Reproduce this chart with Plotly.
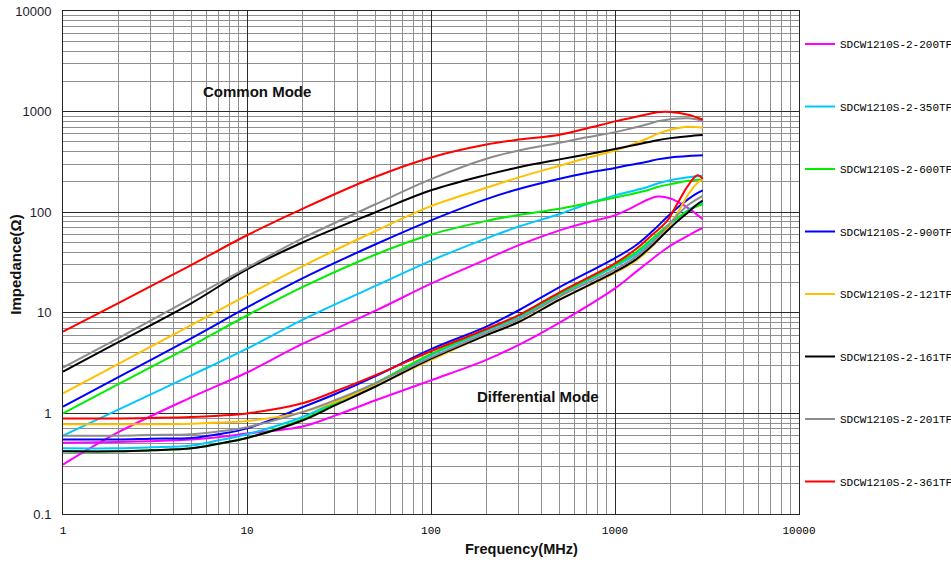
import plotly.graph_objects as go

# ---------------- data ----------------
names = ["SDCW1210S-2-200TF", "SDCW1210S-2-350TF", "SDCW1210S-2-600TF", "SDCW1210S-2-900TF",
         "SDCW1210S-2-121TF", "SDCW1210S-2-161TF", "SDCW1210S-2-201TF", "SDCW1210S-2-361TF"]
colors = ["#FF00FF", "#00C8FF", "#00EE00", "#0000FF", "#FFC000", "#000000", "#8C8C8C", "#FF0000"]

# Common mode impedance (ohm) vs frequency (MHz)
cm_freq = [1, 2, 5, 10, 20, 50, 100, 200, 300, 500, 700, 1000, 1200, 1500, 1700, 2000, 2500, 3000]
cm_200 = [0.31, 0.65, 1.45, 2.55, 4.9, 10.5, 19.5, 34, 47, 66, 79, 93, 108, 133, 143, 137, 110, 85]
cm_350 = [0.6, 1.09, 2.4, 4.4, 8.5, 18.5, 33, 55, 72, 96, 120, 147, 160, 178, 193, 208, 222, 230]
cm_600 = [1.0, 1.95, 4.7, 9.4, 18, 38, 60, 82, 94, 108, 122, 140, 150, 165, 178, 190, 205, 213]
cm_900 = [1.17, 2.3, 5.6, 11.3, 22, 48, 83, 135, 170, 215, 245, 275, 295, 318, 335, 350, 362, 368]
cm_121 = [1.58, 3.1, 7.6, 15, 29, 65, 115, 175, 222, 290, 345, 410, 460, 540, 600, 660, 705, 690]
cm_161 = [2.6, 5.1, 12.5, 27, 50, 100, 165, 235, 280, 335, 375, 425, 455, 495, 520, 545, 570, 585]
cm_201 = [2.86, 5.6, 14, 28, 55, 120, 213, 340, 410, 490, 555, 625, 675, 750, 800, 840, 860, 815]
cm_361 = [6.5, 12.5, 30, 59, 108, 225, 350, 470, 527, 590, 680, 800, 860, 940, 985, 990, 930, 830]

# Differential mode impedance (ohm) vs frequency (MHz)
dm_freq = [1, 2, 3, 5, 7, 10, 20, 30, 50, 100, 200, 300, 500, 1000, 1300, 1600, 1900, 2200, 2500, 2800, 3000]
dm_200 = [0.51, 0.52, 0.53, 0.55, 0.58, 0.63, 0.74, 0.95, 1.35, 2.13, 3.4, 4.8, 8.0, 17.5, 25.5, 34.5, 43.6, 51.5, 58.6, 65.7, 70]
dm_350 = [0.45, 0.45, 0.46, 0.48, 0.54, 0.62, 0.92, 1.3, 2.0, 3.8, 6.6, 9.0, 15, 29, 38, 52, 70, 88, 105, 118, 125]
dm_600 = [0.42, 0.42, 0.43, 0.45, 0.5, 0.57, 0.87, 1.25, 2.0, 3.9, 6.8, 9.3, 15.5, 30, 40, 55, 72, 88, 103, 115, 120]
dm_900 = [0.55, 0.55, 0.56, 0.57, 0.62, 0.71, 1.15, 1.55, 2.35, 4.35, 7.3, 10.6, 18, 35, 47, 65, 88, 112, 135, 155, 165]
dm_121 = [0.78, 0.78, 0.78, 0.79, 0.81, 0.84, 1.03, 1.3, 1.9, 3.4, 6.0, 8.1, 13.5, 25, 33, 46, 66, 100, 150, 195, 212]
dm_161 = [0.42, 0.42, 0.43, 0.45, 0.5, 0.57, 0.85, 1.2, 1.85, 3.5, 6.0, 8.1, 13.5, 25.5, 34, 47, 64, 82, 100, 120, 130]
dm_201 = [0.6, 0.6, 0.61, 0.62, 0.66, 0.73, 1.03, 1.35, 2.0, 3.6, 6.3, 8.6, 14.5, 27, 36, 50, 70, 95, 118, 135, 145]
dm_361 = [0.89, 0.89, 0.9, 0.92, 0.95, 1.0, 1.26, 1.65, 2.4, 4.15, 6.9, 9.5, 16, 31, 43, 60, 80, 125, 185, 233, 215]

cm_series = [cm_200, cm_350, cm_600, cm_900, cm_121, cm_161, cm_201, cm_361]
dm_series = [dm_200, dm_350, dm_600, dm_900, dm_121, dm_161, dm_201, dm_361]

x_ticks = [1, 10, 100, 1000, 10000]
x_ticktext = ["1", "10", "100", "1000", "10000"]
y_ticks = [0.1, 1, 10, 100, 1000, 10000]
y_ticktext = ["0.1", "1", "10", "100", "1000", "10000"]

# ---------------- figure ----------------
fig = go.Figure()
for name, col, cm, dm in zip(names, colors, cm_series, dm_series):
    fig.add_trace(go.Scatter(x=cm_freq, y=cm, mode="lines", name=name, legendgroup=name,
                             line=dict(color=col, width=2, shape="spline", smoothing=1.0)))
    fig.add_trace(go.Scatter(x=dm_freq, y=dm, mode="lines", name=name, legendgroup=name,
                             showlegend=False,
                             line=dict(color=col, width=2, shape="spline", smoothing=1.0)))

W, H = 951, 565
L, R, T, B = 63, 799, 11, 514.5

def px(xp):
    return (xp - L) / (R - L)

def py(yp):
    return (B - yp) / (B - T)

axis_common = dict(type="log", showline=True, mirror=True, linecolor="#262626", linewidth=1,
                   showgrid=True, gridcolor="#2a2a2a", gridwidth=1, zeroline=False,
                   ticks="", minor=dict(dtick="D1", showgrid=True, gridcolor="#8f8f8f", gridwidth=1.3, ticks=""))

fig.update_layout(
    width=W, height=H,
    margin=dict(l=L, r=W - R, t=T, b=H - B, autoexpand=False),
    paper_bgcolor="white", plot_bgcolor="white",
    xaxis=dict(axis_common, range=[0, 4], tickvals=x_ticks, ticktext=x_ticktext,
               tickfont=dict(family="Liberation Mono", size=11, color="#000000"),
               ticklabelstandoff=6),
    yaxis=dict(axis_common, range=[-1, 4], tickvals=y_ticks, ticktext=y_ticktext,
               tickfont=dict(family="Liberation Sans", size=13, color="#1c1c30"),
               ticklabelstandoff=8),
    legend=dict(xref="container", yref="container", x=800 / W, y=1 - 29.5 / H,
                xanchor="left", yanchor="top", tracegroupgap=43.5, maxheight=1.0,
                font=dict(family="Liberation Mono", size=11, color="#000000"),
                bgcolor="rgba(0,0,0,0)", borderwidth=0, itemwidth=30),
    showlegend=True,
)

ann_font = dict(family="Liberation Sans", color="#111111")
common = dict(xref="paper", yref="paper", showarrow=False, xanchor="center", yanchor="middle")
fig.add_annotation(common, x=px(257), y=py(92), text="<b>Common Mode</b>", font=dict(ann_font, size=15))
fig.add_annotation(common, x=px(538), y=py(397), text="<b>Differential Mode</b>", font=dict(ann_font, size=15))
fig.add_annotation(common, x=px(521), y=py(550), text="<b>Frequency(MHz)</b>", font=dict(ann_font, size=14.5))
fig.add_annotation(common, x=px(16), y=py(265), text="<b>Impedance(Ω)</b>", textangle=-90,
                   font=dict(ann_font, size=15))

fig.write_html("out.html")
